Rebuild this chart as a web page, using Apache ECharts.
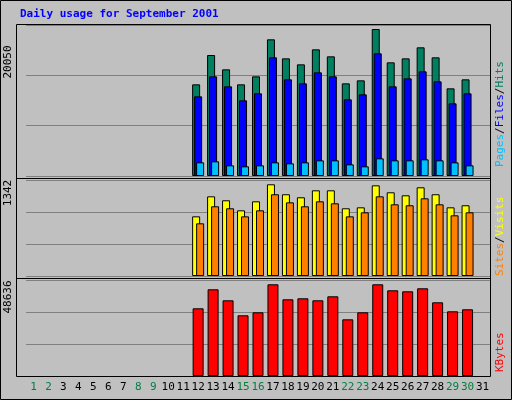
<!DOCTYPE html><html><head><meta charset="utf-8">
<script src="https://cdn.jsdelivr.net/npm/echarts@6/dist/echarts.min.js"></script>
<style>body{margin:0}#c{width:512px;height:400px}</style></head><body><div id="c"></div>
<script>
const days = Array.from({length:31},(_,i)=>String(i+1));
const weekend = ['1','2','8','9','15','16','22','23','29','30'];
const pad = n => Array(11).fill(null).concat(n).concat([null]);
const hits  = [12502,16503,14548,12502,13593,18640,16048,15230,17276,16321,12638,13048,20050,15503,16048,17549,16185,11957,13184];
const files = [10866,13593,12229,10320,11275,16185,13184,12638,14139,13593,10456,11138,16730,12229,13320,14275,12911,9911,11275];
const pages = [1864,2000,1455,1318,1455,1864,1727,1864,2137,2137,1591,1318,2409,2137,2137,2273,2137,1864,1455];
const visits= [873,1166,1108,961,1093,1342,1196,1152,1254,1254,991,1005,1327,1225,1181,1298,1196,1005,1035];
const sites = [771,1020,991,873,961,1196,1078,1020,1093,1064,873,932,1166,1049,1035,1137,1049,888,932];
const kbytes= [35902,45984,40147,32189,33780,48636,40678,41208,40147,42270,30066,33780,48636,45453,44922,46514,39086,34311,35372];
const maxLabels = ['20050','1342','48636'];
const F = 'DejaVu Sans Mono';
const ch = echarts.init(document.getElementById('c'));
const grids = [{top:25,height:151},{top:180,height:96},{top:280,height:96}];
const ymax = [20596,1405,50917];
const bs = {borderColor:'#000',borderWidth:1};
function ser(name,data,color,g,w,gap){return {type:'bar',name,data:pad(data),xAxisIndex:g,yAxisIndex:g,barWidth:w,barGap:gap,itemStyle:Object.assign({color},bs),animation:false};}
ch.setOption({
  backgroundColor:'#c0c0c0',
  graphic:[
    {type:'rect',shape:{x:0.5,y:0.5,width:511,height:399},style:{fill:null,stroke:'#000'}},
    {type:'rect',shape:{x:16.5,y:24.5,width:474,height:352},style:{fill:null,stroke:'#000'},z:10},
    {type:'line',shape:{x1:16,y1:178.5,x2:491,y2:178.5},style:{stroke:'#000'},z:10},
    {type:'line',shape:{x1:16,y1:278.5,x2:491,y2:278.5},style:{stroke:'#000'},z:10},
    {type:'text',x:20,y:9,style:{text:'Daily usage for September 2001',fill:'#0000ff',font:'bold 11px '+F}},
    {type:'text',x:8,y:62,rotation:Math.PI/2,style:{text:maxLabels[0],fill:'#000',font:'11px '+F,align:'center',verticalAlign:'middle'}},
    {type:'text',x:8,y:193,rotation:Math.PI/2,style:{text:maxLabels[1],fill:'#000',font:'11px '+F,align:'center',verticalAlign:'middle'}},
    {type:'text',x:8,y:297,rotation:Math.PI/2,style:{text:maxLabels[2],fill:'#000',font:'11px '+F,align:'center',verticalAlign:'middle'}},
    {type:'text',x:500,y:167,rotation:Math.PI/2,style:{text:'{p|Pages}{s|/}{f|Files}{s|/}{h|Hits}',font:'11px '+F,verticalAlign:'middle',rich:{p:{fill:'#00c0ff',font:'11px '+F},s:{fill:'#000',font:'11px '+F},f:{fill:'#0000ff',font:'11px '+F},h:{fill:'#008060',font:'11px '+F}}}},
    {type:'text',x:500,y:276,rotation:Math.PI/2,style:{text:'{o|Sites}{s|/}{y|Visits}',font:'11px '+F,verticalAlign:'middle',rich:{o:{fill:'#ff8000',font:'11px '+F},s:{fill:'#000',font:'11px '+F},y:{fill:'#ffff00',font:'11px '+F}}}},
    {type:'text',x:500,y:372,rotation:Math.PI/2,style:{text:'KBytes',fill:'#ff0000',font:'11px '+F,verticalAlign:'middle'}}
  ],
  grid:grids.map(g=>Object.assign({left:26,right:22},g)),
  xAxis:[0,1,2].map(i=>({type:'category',gridIndex:i,data:days,axisLine:{show:false},axisTick:{show:false},
    axisLabel:{show:i===2,interval:0,margin:6,fontFamily:F,fontSize:11,color:v=>weekend.includes(v)?'#008040':'#000'}})),
  yAxis:[0,1,2].map(i=>({type:'value',gridIndex:i,min:0,max:ymax[i],interval:ymax[i]/3,axisLabel:{show:false},axisLine:{show:false},axisTick:{show:false},
    splitLine:{lineStyle:{color:'#808080',width:1}}})),
  series:[
    ser('Hits',hits,'#008060',0,8,'-75%'),
    ser('Files',files,'#0000ff',0,8,'-75%'),
    ser('Pages',pages,'#00c0ff',0,8,'-75%'),
    ser('Visits',visits,'#ffff00',1,8,'-50%'),
    ser('Sites',sites,'#ff8000',1,8,'-50%'),
    ser('KBytes',kbytes,'#ff0000',2,11,'0%')
  ]
});
</script></body></html>
